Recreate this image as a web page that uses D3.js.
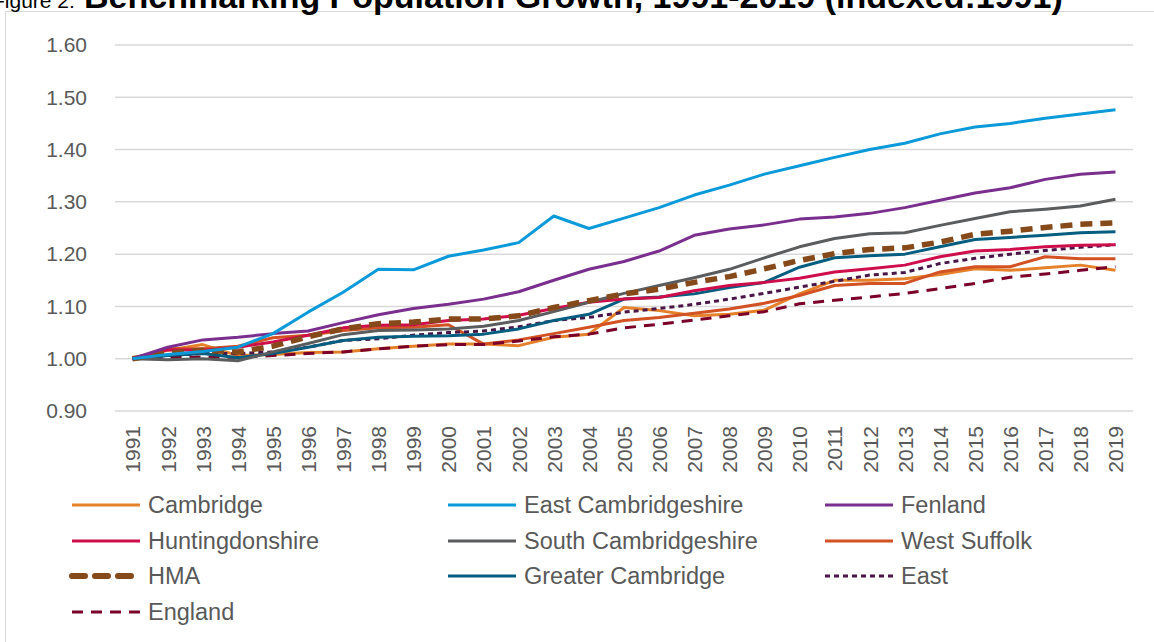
<!DOCTYPE html>
<html>
<head>
<meta charset="utf-8">
<script src="https://cdn.jsdelivr.net/npm/d3@7.9.0/dist/d3.min.js"></script>
<style>
  body { margin: 0; background: #fff; }
  svg { display: block; font-family: "Liberation Sans", Arial, sans-serif; }
</style>
</head>
<body>
<svg width="1154" height="642"></svg>
<script>
const years = d3.range(1991, 2020).map(String);

const cambridge = [1.000, 1.016, 1.027, 1.006, 1.008, 1.012, 1.013, 1.019, 1.024, 1.028, 1.028, 1.025, 1.041, 1.047, 1.098, 1.092, 1.082, 1.085, 1.093, 1.124, 1.150, 1.150, 1.153, 1.161, 1.172, 1.169, 1.174, 1.179, 1.169];
const eastCambs = [1.000, 1.008, 1.014, 1.022, 1.048, 1.089, 1.127, 1.171, 1.170, 1.196, 1.208, 1.222, 1.273, 1.249, 1.269, 1.289, 1.313, 1.332, 1.353, 1.369, 1.385, 1.400, 1.412, 1.430, 1.443, 1.450, 1.460, 1.468, 1.476];
const fenland = [1.000, 1.022, 1.036, 1.041, 1.048, 1.053, 1.069, 1.084, 1.096, 1.104, 1.114, 1.128, 1.150, 1.171, 1.186, 1.206, 1.236, 1.248, 1.256, 1.267, 1.271, 1.278, 1.289, 1.303, 1.317, 1.327, 1.343, 1.353, 1.357];
const hunts = [1.000, 1.017, 1.016, 1.022, 1.032, 1.045, 1.059, 1.064, 1.065, 1.073, 1.076, 1.083, 1.096, 1.108, 1.114, 1.117, 1.130, 1.140, 1.146, 1.154, 1.166, 1.172, 1.179, 1.195, 1.206, 1.209, 1.214, 1.217, 1.218];
const southCambs = [1.000, 0.998, 1.000, 0.996, 1.013, 1.029, 1.046, 1.054, 1.055, 1.057, 1.062, 1.073, 1.090, 1.108, 1.125, 1.140, 1.155, 1.171, 1.193, 1.214, 1.230, 1.239, 1.241, 1.255, 1.268, 1.281, 1.286, 1.292, 1.305];
const westSuffolk = [1.000, 1.019, 1.019, 1.024, 1.040, 1.045, 1.054, 1.059, 1.060, 1.065, 1.028, 1.036, 1.048, 1.060, 1.073, 1.079, 1.087, 1.095, 1.106, 1.121, 1.140, 1.144, 1.144, 1.166, 1.176, 1.176, 1.195, 1.191, 1.191];
const hma = [1.000, 1.011, 1.016, 1.013, 1.024, 1.042, 1.057, 1.067, 1.070, 1.076, 1.076, 1.082, 1.098, 1.111, 1.124, 1.133, 1.146, 1.157, 1.172, 1.188, 1.201, 1.209, 1.212, 1.223, 1.238, 1.244, 1.251, 1.257, 1.260];
const greaterCambs = [1.000, 1.006, 1.010, 1.002, 1.010, 1.022, 1.035, 1.041, 1.043, 1.044, 1.047, 1.057, 1.073, 1.085, 1.114, 1.118, 1.124, 1.136, 1.146, 1.175, 1.193, 1.197, 1.200, 1.214, 1.228, 1.232, 1.236, 1.241, 1.243];
const east = [1.000, 1.006, 1.010, 1.010, 1.013, 1.022, 1.035, 1.038, 1.045, 1.050, 1.053, 1.061, 1.073, 1.079, 1.089, 1.096, 1.104, 1.114, 1.125, 1.137, 1.148, 1.160, 1.165, 1.182, 1.192, 1.200, 1.207, 1.213, 1.218];
const england = [1.000, 1.003, 1.003, 1.003, 1.006, 1.010, 1.013, 1.019, 1.024, 1.027, 1.027, 1.034, 1.042, 1.047, 1.059, 1.066, 1.074, 1.082, 1.090, 1.105, 1.112, 1.118, 1.125, 1.134, 1.144, 1.156, 1.162, 1.169, 1.176];

const yTicks = [0.9, 1.0, 1.1, 1.2, 1.3, 1.4, 1.5, 1.6];

const series = [
  { name: 'Cambridge', values: cambridge, color: '#E4812A', width: 3, dash: null },
  { name: 'East Cambridgeshire', values: eastCambs, color: '#0B9AD9', width: 3, dash: null },
  { name: 'Fenland', values: fenland, color: '#7A2F8F', width: 3, dash: null },
  { name: 'Huntingdonshire', values: hunts, color: '#CE0E4A', width: 3, dash: null },
  { name: 'South Cambridgeshire', values: southCambs, color: '#5A5C5E', width: 3, dash: null },
  { name: 'West Suffolk', values: westSuffolk, color: '#D25223', width: 3, dash: null },
  { name: 'HMA', values: hma, color: '#85491A', width: 5.5, dash: '12,8' },
  { name: 'Greater Cambridge', values: greaterCambs, color: '#055E80', width: 3, dash: null },
  { name: 'East', values: east, color: '#4A1547', width: 3, dash: '5,4' },
  { name: 'England', values: england, color: '#7A0028', width: 3, dash: '11,8' }
];

// draw order: back to front roughly as in the original
const drawOrder = ['Cambridge', 'West Suffolk', 'England', 'East', 'Greater Cambridge', 'Huntingdonshire', 'South Cambridgeshire', 'HMA', 'Fenland', 'East Cambridgeshire'];

const svg = d3.select('svg');

// chart frame
svg.append('rect')
  .attr('x', 5.5).attr('y', 11.5)
  .attr('width', 1160).attr('height', 650)
  .attr('fill', 'none').attr('stroke', '#d9d9d9').attr('stroke-width', 1);

// title (clipped at the top in the original)
svg.append('text')
  .attr('x', -8).attr('y', 8)
  .attr('font-size', 21).attr('fill', '#000')
  .text('Figure 2:');
svg.append('text')
  .attr('x', 84).attr('y', 8)
  .attr('font-size', 34).attr('font-weight', 'bold').attr('fill', '#000')
  .text('Benchmarking Population Growth, 1991-2019 (indexed:1991)');

const x = d3.scalePoint().domain(years).range([115, 1133]).padding(0.5);
const y = d3.scaleLinear().domain([0.9, 1.6]).range([411, 45]);

// gridlines
svg.append('g')
  .selectAll('line')
  .data(yTicks)
  .join('line')
  .attr('x1', 115).attr('x2', 1133)
  .attr('y1', d => y(d)).attr('y2', d => y(d))
  .attr('stroke', '#d9d9d9').attr('stroke-width', 1.5);

// y axis
const yAxis = svg.append('g')
  .attr('transform', 'translate(87,0)')
  .call(d3.axisLeft(y).tickValues(yTicks).tickFormat(d3.format('.2f')).tickSize(0).tickPadding(0));
yAxis.select('.domain').remove();
yAxis.selectAll('text')
  .attr('font-size', 21).attr('fill', '#595959')
  .attr('font-family', '"Liberation Sans", Arial, sans-serif');

// x axis
const xAxis = svg.append('g')
  .attr('transform', `translate(0,${y(0.9)})`)
  .call(d3.axisBottom(x).tickSize(0).tickPadding(0));
xAxis.select('.domain').remove();
xAxis.selectAll('text')
  .attr('font-size', 21).attr('fill', '#595959')
  .attr('font-family', '"Liberation Sans", Arial, sans-serif')
  .attr('transform', 'rotate(-90)')
  .attr('text-anchor', 'end')
  .attr('dy', '0.35em')
  .attr('x', -15).attr('y', 0);

// lines
const line = d3.line()
  .x((d, i) => x(years[i]))
  .y(d => y(d));

drawOrder.forEach(name => {
  const s = series.find(d => d.name === name);
  svg.append('path')
    .datum(s.values)
    .attr('d', line)
    .attr('fill', 'none')
    .attr('stroke', s.color)
    .attr('stroke-width', s.width)
    .attr('stroke-linejoin', 'round')
    .attr('stroke-dasharray', s.dash);
});

// legend
const legendCols = [72, 448, 825];
const legendRows = [505, 541, 576, 612];
series.forEach((s, i) => {
  const lx = legendCols[i % 3];
  const ly = legendRows[Math.floor(i / 3)];
  const g = svg.append('g').attr('transform', `translate(${lx},${ly})`);
  g.append('line')
    .attr('x1', 0).attr('x2', 68).attr('y1', 0).attr('y2', 0)
    .attr('stroke', s.color)
    .attr('stroke-width', s.name === 'HMA' ? 6 : s.width)
    .attr('stroke-linecap', s.name === 'HMA' ? 'round' : null)
    .attr('stroke-dasharray', s.name === 'HMA' ? '13,10' : s.dash);
  g.append('text')
    .attr('x', 76).attr('y', 0).attr('dy', '0.35em')
    .attr('font-size', 23.5).attr('fill', '#595959')
    .text(s.name);
});
</script>
</body>
</html>
